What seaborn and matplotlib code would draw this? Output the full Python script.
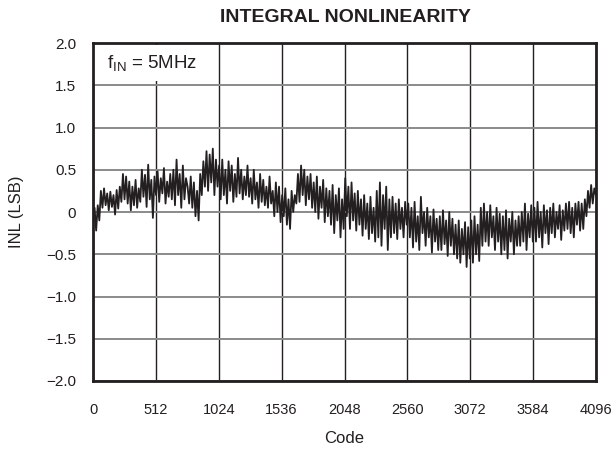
import numpy as np
import matplotlib
matplotlib.use("Agg")
import matplotlib.pyplot as plt
import seaborn as sns
from matplotlib.patches import Rectangle

# ---- data ----
title = "INTEGRAL NONLINEARITY"
x_label = "Code"
y_label = "INL (LSB)"
annotation = r"f$_{\mathrm{IN}}$ = 5MHz"
x_ticks = [0, 512, 1024, 1536, 2048, 2560, 3072, 3584, 4096]
x_tick_labels = ["0", "512", "1024", "1536", "2048", "2560", "3072", "3584", "4096"]
y_ticks = [2.0, 1.5, 1.0, 0.5, 0.0, -0.5, -1.0, -1.5, -2.0]
y_tick_labels = ["2.0", "1.5", "1.0", "0.5", "0", "\u22120.5", "\u22121.0", "\u22121.5", "\u22122.0"]

# INL samples (LSB) read across the code range 0..4095
inl_lsb = [
    -0.15, 0.05, -0.22, 0.08, -0.10, 0.25, 0.05, 0.28, 0.08, 0.22,
    0.02, 0.24, 0.06, 0.20, -0.03, 0.26, 0.04, 0.30, 0.12, 0.45,
    0.15, 0.42, 0.10, 0.36, 0.02, 0.30, 0.08, 0.38, 0.05, 0.28,
    0.12, 0.50, 0.18, 0.44, 0.06, 0.56, 0.15, 0.38, -0.07, 0.42,
    0.20, 0.48, 0.12, 0.40, 0.22, 0.52, 0.10, 0.36, 0.18, 0.45,
    0.15, 0.50, 0.08, 0.62, 0.20, 0.45, 0.05, 0.55, 0.15, 0.40,
    0.30, 0.10, 0.42, 0.05, 0.35, -0.05, 0.25, -0.10, 0.45, 0.20,
    0.60, 0.30, 0.72, 0.25, 0.68, 0.35, 0.75, 0.20, 0.62, 0.30,
    0.55, 0.15, 0.62, 0.20, 0.50, 0.10, 0.60, 0.25, 0.55, 0.12,
    0.45, 0.18, 0.64, 0.22, 0.50, 0.15, 0.42, 0.20, 0.55, 0.18,
    0.40, 0.10, 0.50, 0.15, 0.35, 0.05, 0.45, 0.12, 0.38, 0.08,
    0.30, 0.05, 0.42, 0.10, 0.25, -0.05, 0.35, 0.00, 0.30, -0.12,
    0.20, -0.05, 0.28, -0.15, 0.15, -0.20, 0.25, 0.00, 0.20, 0.10,
    0.45, 0.12, 0.55, 0.20, 0.50, 0.08, 0.42, 0.15, 0.45, 0.05,
    0.35, 0.00, 0.42, -0.08, 0.30, 0.05, 0.38, -0.12, 0.28, -0.05,
    0.25, -0.15, 0.32, -0.25, 0.20, -0.10, 0.28, -0.30, 0.15, -0.20,
    0.40, -0.05, 0.30, -0.20, 0.35, -0.10, 0.22, -0.22, 0.25, -0.15,
    0.15, -0.28, 0.20, -0.20, 0.10, -0.32, 0.18, -0.25, 0.05, -0.35,
    0.25, -0.30, 0.35, -0.40, 0.20, -0.20, 0.30, -0.45, 0.15, -0.30,
    0.18, -0.25, 0.10, -0.32, 0.15, -0.20, 0.05, -0.30, 0.12, -0.15,
    0.10, -0.30, 0.05, -0.42, 0.12, -0.35, -0.05, -0.45, 0.18, -0.25,
    0.00, -0.40, 0.05, -0.30, -0.05, -0.48, 0.03, -0.35, -0.08, -0.45,
    -0.05, -0.45, 0.02, -0.38, -0.10, -0.52, 0.00, -0.40, -0.08, -0.50,
    -0.15, -0.55, -0.10, -0.60, -0.20, -0.50, -0.12, -0.65, -0.18, -0.55,
    -0.10, -0.60, -0.05, -0.50, -0.15, -0.58, 0.05, -0.40, 0.10, -0.35,
    0.00, -0.40, 0.08, -0.30, -0.05, -0.45, 0.05, -0.35, -0.02, -0.50,
    -0.05, -0.45, 0.02, -0.55, -0.08, -0.35, 0.00, -0.50, -0.10, -0.40,
    -0.05, -0.40, 0.00, -0.35, 0.10, -0.45, -0.02, -0.30, 0.08, -0.35,
    0.05, -0.35, 0.12, -0.30, 0.00, -0.42, 0.08, -0.25, 0.02, -0.38,
    0.05, -0.25, 0.10, -0.30, 0.00, -0.20, 0.08, -0.33, 0.02, -0.22,
    0.10, -0.20, 0.12, -0.25, 0.05, -0.30, 0.10, -0.15, 0.12, -0.22,
    0.10, -0.20, 0.15, -0.05, 0.25, 0.05, 0.32, 0.10, 0.28, 0.20,
]
codes = np.linspace(0, 4095, len(inl_lsb))

# ---- styling ----
sns.set_theme(style="white")
plt.rcParams["font.family"] = ["Liberation Sans", "DejaVu Sans"]
plt.rcParams["mathtext.fontset"] = "custom"
plt.rcParams["mathtext.rm"] = "Liberation Sans"
plt.rcParams["mathtext.it"] = "Liberation Sans:italic"
plt.rcParams["mathtext.bf"] = "Liberation Sans:bold"

fig = plt.figure(figsize=(6.11, 4.49), dpi=100)
ax = fig.add_axes([93 / 611, 1 - 381 / 449, 503 / 611, 338 / 449])

sns.lineplot(x=codes, y=inl_lsb, ax=ax, color="#231f20", linewidth=1.3,
             estimator=None, zorder=3)

ax.set_xlim(0, 4096)
ax.set_ylim(-2.0, 2.0)
ax.set_xticks(x_ticks)
ax.set_xticklabels(x_tick_labels)
ax.set_yticks(y_ticks)
ax.set_yticklabels(y_tick_labels)
ax.tick_params(axis="both", length=0, colors="#231f20")
ax.tick_params(axis="x", pad=16, labelsize=10.5)
ax.tick_params(axis="y", pad=12, labelsize=11)

ax.set_axisbelow(True)
ax.xaxis.grid(True, color="#231f20", linewidth=1.0)
ax.yaxis.grid(True, color="#8a8a8a", linewidth=1.4)

for s in ax.spines.values():
    s.set_visible(True)
    s.set_color("#231f20")
    s.set_linewidth(2.0)
    s.set_zorder(5)

# white box behind annotation
ax.add_patch(Rectangle((8, 1.55), 900, 0.43, facecolor="white",
                       edgecolor="none", zorder=1.5))
ax.text(110, 1.76, annotation, fontsize=13.5, color="#231f20",
        ha="left", va="center", zorder=4)

ax.set_xlabel(x_label, fontsize=12, color="#231f20", labelpad=10)
ax.set_ylabel(y_label, fontsize=12, color="#231f20", labelpad=16)

fig.text(345 / 611, 1 - 18 / 449, title, fontsize=14, fontweight="bold",
         color="#231f20", ha="center", va="center")

fig.savefig("out.png", dpi=100, facecolor="white")
